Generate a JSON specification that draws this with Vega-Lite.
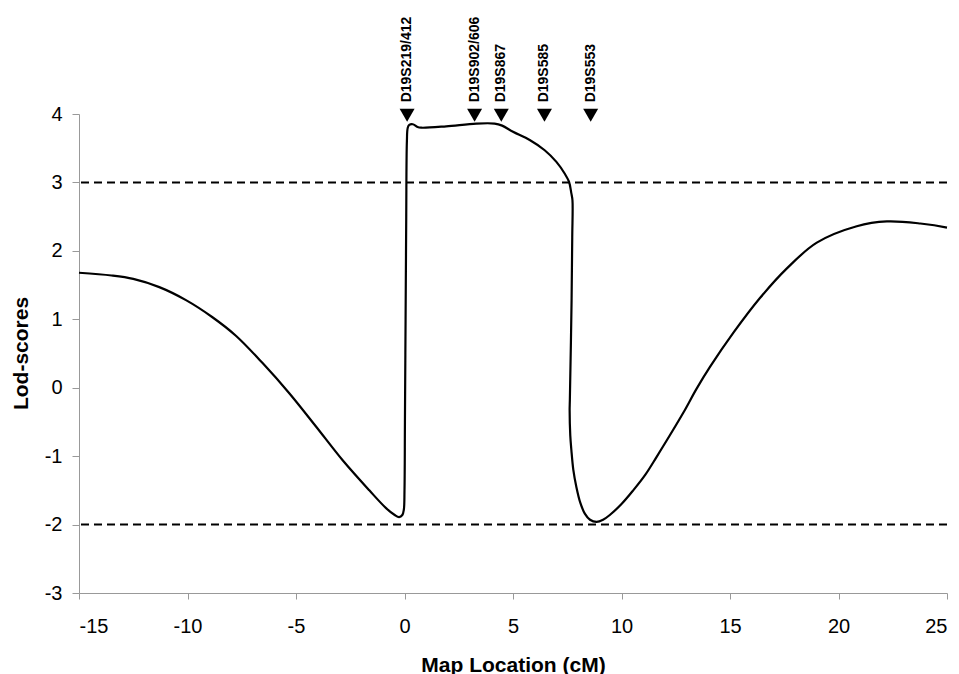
{
  "$schema": "https://vega.github.io/schema/vega-lite/v6.json",
  "width": 868,
  "height": 479,
  "autosize": "none",
  "padding": {"left": 79, "top": 114, "right": 12, "bottom": 81},
  "background": "white",
  "config": {"view": {"stroke": null}, "font": "Liberation Sans"},
  "datasets": {
    "curve": [
      {"i": 1, "cm": -15, "lod": 1.68},
      {"i": 2, "cm": -13.5, "lod": 1.64},
      {"i": 3, "cm": -12.5, "lod": 1.59},
      {"i": 4, "cm": -11.3, "lod": 1.47},
      {"i": 5, "cm": -10.07, "lod": 1.28},
      {"i": 6, "cm": -8.85, "lod": 1.03},
      {"i": 7, "cm": -7.77, "lod": 0.76},
      {"i": 8, "cm": -6.54, "lod": 0.36},
      {"i": 9, "cm": -5.31, "lod": -0.08},
      {"i": 10, "cm": -4.07, "lod": -0.57},
      {"i": 11, "cm": -2.85, "lod": -1.06},
      {"i": 12, "cm": -1.62, "lod": -1.5},
      {"i": 13, "cm": -0.85, "lod": -1.76},
      {"i": 14, "cm": -0.45, "lod": -1.86},
      {"i": 15, "cm": -0.25, "lod": -1.89},
      {"i": 16, "cm": -0.1, "lod": -1.86},
      {"i": 17, "cm": -0.03, "lod": -1.78},
      {"i": 18, "cm": 0.0, "lod": -1.5},
      {"i": 19, "cm": 0.02, "lod": -0.5},
      {"i": 20, "cm": 0.05, "lod": 1.0},
      {"i": 21, "cm": 0.08, "lod": 2.5},
      {"i": 22, "cm": 0.11, "lod": 3.6},
      {"i": 23, "cm": 0.15, "lod": 3.8},
      {"i": 24, "cm": 0.22, "lod": 3.84},
      {"i": 25, "cm": 0.38, "lod": 3.85},
      {"i": 26, "cm": 0.6, "lod": 3.81},
      {"i": 27, "cm": 0.77, "lod": 3.8},
      {"i": 28, "cm": 1.92, "lod": 3.82},
      {"i": 29, "cm": 3.31, "lod": 3.86},
      {"i": 30, "cm": 4.15, "lod": 3.86},
      {"i": 31, "cm": 4.5, "lod": 3.83},
      {"i": 32, "cm": 5.0, "lod": 3.74},
      {"i": 33, "cm": 5.77, "lod": 3.62},
      {"i": 34, "cm": 6.46, "lod": 3.47},
      {"i": 35, "cm": 7.0, "lod": 3.3},
      {"i": 36, "cm": 7.38, "lod": 3.13},
      {"i": 37, "cm": 7.58, "lod": 3.01},
      {"i": 38, "cm": 7.69, "lod": 2.84},
      {"i": 39, "cm": 7.74, "lod": 2.74},
      {"i": 40, "cm": 7.73, "lod": 2.2},
      {"i": 41, "cm": 7.7, "lod": 1.28},
      {"i": 42, "cm": 7.62, "lod": -0.18},
      {"i": 43, "cm": 7.61, "lod": -0.33},
      {"i": 44, "cm": 7.64, "lod": -0.7},
      {"i": 45, "cm": 7.69, "lod": -0.91},
      {"i": 46, "cm": 7.78, "lod": -1.2},
      {"i": 47, "cm": 7.92, "lod": -1.45},
      {"i": 48, "cm": 8.1, "lod": -1.68},
      {"i": 49, "cm": 8.31, "lod": -1.84},
      {"i": 50, "cm": 8.55, "lod": -1.93},
      {"i": 51, "cm": 8.85, "lod": -1.96},
      {"i": 52, "cm": 9.15, "lod": -1.93},
      {"i": 53, "cm": 9.46, "lod": -1.86},
      {"i": 54, "cm": 10.0, "lod": -1.7},
      {"i": 55, "cm": 10.54, "lod": -1.5},
      {"i": 56, "cm": 11.1, "lod": -1.27},
      {"i": 57, "cm": 11.62, "lod": -1.01},
      {"i": 58, "cm": 12.84, "lod": -0.37},
      {"i": 59, "cm": 13.45, "lod": -0.02},
      {"i": 60, "cm": 14.07, "lod": 0.3},
      {"i": 61, "cm": 15.15, "lod": 0.8},
      {"i": 62, "cm": 16.38, "lod": 1.31},
      {"i": 63, "cm": 17.61, "lod": 1.74},
      {"i": 64, "cm": 19.0, "lod": 2.12},
      {"i": 65, "cm": 20.84, "lod": 2.36},
      {"i": 66, "cm": 22.23, "lod": 2.43},
      {"i": 67, "cm": 23.77, "lod": 2.4},
      {"i": 68, "cm": 25.0, "lod": 2.34}
    ],
    "thresholds": [{"lod": 3}, {"lod": -2}],
    "markers": [
      {"marker": "D19S219/412", "cm": 0.12},
      {"marker": "D19S902/606", "cm": 3.23},
      {"marker": "D19S867", "cm": 4.46},
      {"marker": "D19S585", "cm": 6.45},
      {"marker": "D19S553", "cm": 8.58}
    ]
  },
  "layer": [
    {
      "data": {"name": "thresholds"},
      "mark": {"type": "rule", "color": "black", "strokeWidth": 2, "strokeDash": [8, 5]},
      "encoding": {
        "y": {
          "field": "lod", "type": "quantitative",
          "scale": {"domain": [-3, 4], "nice": false, "zero": false}
        }
      }
    },
    {
      "data": {"name": "curve"},
      "mark": {"type": "line", "color": "black", "strokeWidth": 2.2, "interpolate": "catmull-rom"},
      "encoding": {
        "x": {
          "field": "cm", "type": "quantitative",
          "scale": {"domain": [-15, 25], "nice": false, "zero": false},
          "axis": {
            "values": [-15, -10, -5, 0, 5, 10, 15, 20, 25],
            "labelExpr": "'' + datum.value",
            "grid": false,
            "domainColor": "#999999",
            "tickColor": "#999999",
            "tickSize": 6,
            "labelFontSize": 20,
            "labelColor": "black",
            "labelPadding": 17,
            "labelFont": "Liberation Sans",
            "title": "Map Location (cM)",
            "titleFont": "Liberation Sans",
            "titleFontSize": 21,
            "titleFontWeight": "bold",
            "titleColor": "black",
            "titleY": 78,
            "titleBaseline": "alphabetic"
          }
        },
        "y": {
          "field": "lod", "type": "quantitative",
          "scale": {"domain": [-3, 4], "nice": false, "zero": false},
          "axis": {
            "values": [-3, -2, -1, 0, 1, 2, 3, 4],
            "labelExpr": "'' + datum.value",
            "grid": false,
            "domainColor": "#999999",
            "tickColor": "#999999",
            "tickSize": 7,
            "labelFontSize": 20,
            "labelColor": "black",
            "labelPadding": 10,
            "labelFont": "Liberation Sans",
            "title": "Lod-scores",
            "titleFont": "Liberation Sans",
            "titleFontSize": 21,
            "titleFontWeight": "bold",
            "titleColor": "black",
            "titleX": -52,
            "titleY": 239,
            "titleBaseline": "alphabetic"
          }
        },
        "order": {"field": "i", "type": "quantitative"}
      }
    },
    {
      "data": {"name": "markers"},
      "mark": {"type": "point", "shape": "triangle-down", "filled": true, "color": "black", "size": 225, "opacity": 1},
      "encoding": {
        "x": {"field": "cm", "type": "quantitative"},
        "y": {"datum": 3.98}
      }
    },
    {
      "data": {"name": "markers"},
      "mark": {"type": "text", "angle": 270, "align": "left", "baseline": "middle", "font": "Liberation Sans", "fontSize": 14, "fontWeight": "bold", "color": "black"},
      "encoding": {
        "x": {"field": "cm", "type": "quantitative"},
        "y": {"datum": 4.17},
        "text": {"field": "marker"}
      }
    }
  ]
}
